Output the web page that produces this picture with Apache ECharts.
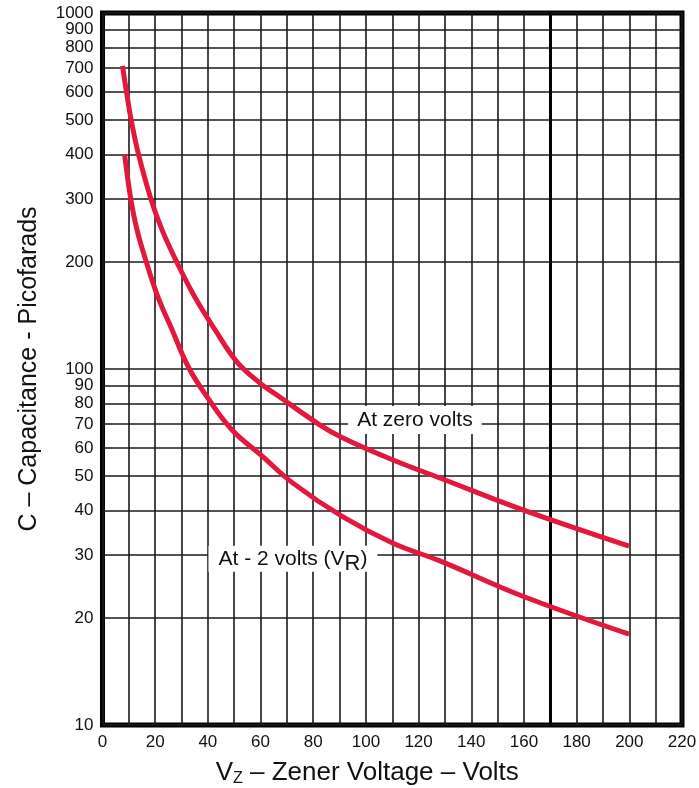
<!DOCTYPE html>
<html>
<head>
<meta charset="utf-8">
<script src="https://cdn.jsdelivr.net/npm/echarts@6/dist/echarts.min.js"></script>
<style>html,body{margin:0;padding:0;background:#fff;}#c{width:699px;height:788px;}</style>
</head>
<body>
<div id="c"></div>
<script>
// Zener voltage (V) vs capacitance (pF)
const zeroVoltsV = [7.6, 9.1, 10.9, 13.7, 18.4, 22.6, 28.3, 35.1, 42.7, 51.1, 59.8, 66.2, 82.6, 91.3, 110.3, 128.1, 159.6, 199.9];
const zeroVoltsC = [710, 600, 500, 400, 300, 246, 199, 159, 129, 104.6, 91.3, 84.5, 69.6, 64.0, 55.5, 49.4, 40.2, 31.8];
const minus2V = [8.4, 10.8, 13.1, 16.7, 21.1, 26.4, 32.6, 39.7, 49.2, 60.2, 72.3, 91.3, 110.3, 128.1, 159.6, 199.9];
const minus2C = [400, 298, 246, 199, 159, 129, 101.3, 83.5, 67.4, 57.3, 47.8, 38.4, 32.4, 28.9, 23.0, 18.0];
const yTicks = [10, 20, 30, 40, 50, 60, 70, 80, 90, 100, 200, 300, 400, 500, 600, 700, 800, 900, 1000];
const yTopLabel = [1000];
const yLabels = yTicks.filter(v => yTopLabel.indexOf(v) < 0);
const xLabelStep = 20;
const heavyLineX = 170;
const zeroLabelAt = [118.6, 71.9];
const minus2LabelAt = [72.3, 29.3];

const FONT = '"Liberation Sans", Arial, Helvetica, sans-serif';
const RED = '#e2183d';
const zip = (a, b) => a.map((v, i) => [v, b[i]]);
const yLabelStyle = {color: '#111', fontFamily: FONT, fontSize: 17, margin: 9, formatter: v => String(Math.round(v))};

const chart = echarts.init(document.getElementById('c'), null, {renderer: 'canvas'});
chart.setOption({
  animation: false,
  backgroundColor: '#fff',
  grid: {
    show: true, left: 102.5, right: 17, top: 13, bottom: 63,
    outerBoundsMode: 'none', containLabel: false,
    borderColor: '#000', borderWidth: 5, backgroundColor: 'transparent'
  },
  xAxis: {
    type: 'value', min: 0, max: 220, interval: 10,
    axisLine: {show: false}, axisTick: {show: false},
    splitLine: {show: true, lineStyle: {color: '#1a1a1a', width: 1.6}},
    axisLabel: {
      color: '#111', fontFamily: FONT, fontSize: 17, margin: 9,
      formatter: v => (v % xLabelStep === 0 ? String(v) : '')
    },
    name: '{a|V}{s|Z}{a| – Zener Voltage – Volts}',
    nameLocation: 'middle', nameGap: 34,
    nameTextStyle: {
      fontFamily: FONT, color: '#111', padding: [0, 50, 0, 0],
      rich: {
        a: {fontSize: 26, fontFamily: FONT, color: '#111', lineHeight: 28},
        s: {fontSize: 16, fontFamily: FONT, color: '#111', lineHeight: 20, padding: [12, 0, 0, 0]}
      }
    }
  },
  yAxis: [
    {
      type: 'log', logBase: 10, min: 10, max: 1000, position: 'left',
      axisLine: {show: false},
      axisTick: {show: false, customValues: yTicks},
      splitLine: {show: true, lineStyle: {color: '#1a1a1a', width: 1.6}},
      axisLabel: Object.assign({customValues: yLabels, showMaxLabel: true, showMinLabel: true}, yLabelStyle),
      name: 'C – Capacitance - Picofarads',
      nameLocation: 'middle', nameGap: 61,
      nameTextStyle: {fontFamily: FONT, fontSize: 25, color: '#111'}
    },
    {
      type: 'log', logBase: 10, min: 10, max: 1000, position: 'left',
      axisLine: {show: false},
      axisTick: {show: false, customValues: yTopLabel},
      splitLine: {show: false},
      axisLabel: Object.assign({customValues: yTopLabel, showMaxLabel: true}, yLabelStyle)
    }
  ],
  series: [
    {
      type: 'line', name: 'At zero volts', data: zip(zeroVoltsV, zeroVoltsC), yAxisIndex: 0,
      smooth: 0.4, symbol: 'none', lineStyle: {color: RED, width: 5}, z: 3,
      markLine: {
        silent: true, symbol: 'none', z: 1, animation: false,
        label: {show: false},
        lineStyle: {color: '#000', width: 3, type: 'solid'},
        data: [{xAxis: heavyLineX}]
      },
      markPoint: {
        silent: true, symbol: 'rect', symbolSize: 1, itemStyle: {color: 'rgba(0,0,0,0)'},
        label: {
          show: true, position: 'inside', formatter: 'At zero volts',
          fontFamily: FONT, fontSize: 21, color: '#111', lineHeight: 24,
          backgroundColor: '#fff', padding: [2, 9, 2, 9]
        },
        data: [{coord: zeroLabelAt}]
      }
    },
    {
      type: 'line', name: 'At - 2 volts (VR)', data: zip(minus2V, minus2C), yAxisIndex: 0,
      smooth: 0.4, symbol: 'none', lineStyle: {color: RED, width: 5}, z: 3,
      markPoint: {
        silent: true, symbol: 'rect', symbolSize: 1, itemStyle: {color: 'rgba(0,0,0,0)'},
        label: {
          show: true, position: 'inside',
          formatter: '{a|At - 2 volts (V}{s|R}{a|)}',
          backgroundColor: '#fff', padding: [1, 10, 1, 10],
          rich: {
            a: {fontFamily: FONT, fontSize: 21, color: '#111', lineHeight: 24},
            s: {fontFamily: FONT, fontSize: 22, color: '#111', lineHeight: 24, padding: [10, 0, 0, 0]}
          }
        },
        data: [{coord: minus2LabelAt}]
      }
    }
  ]
});
</script>
</body>
</html>
